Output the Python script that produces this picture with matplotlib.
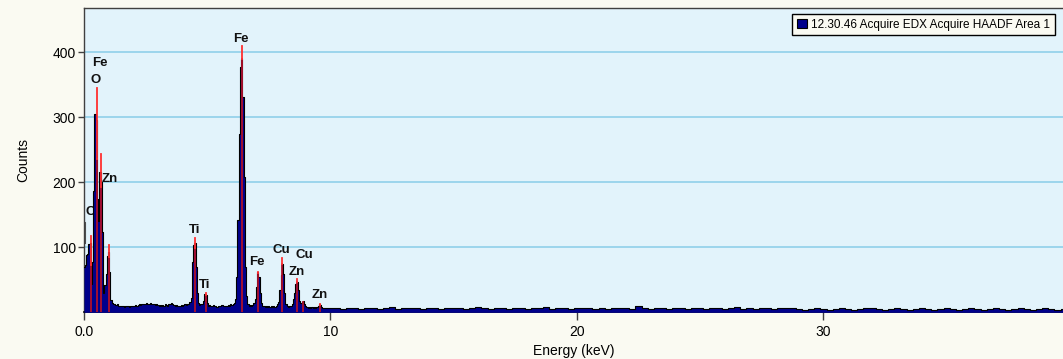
import numpy as np
import matplotlib
matplotlib.use("Agg")
import matplotlib.pyplot as plt
from matplotlib.patches import Patch

plt.rcParams['font.family'] = ['Liberation Sans', 'DejaVu Sans']

# ---- data: spectrum 0-10 keV in 0.05 keV channels ----
channel_width_lo = 0.05
counts_lo = [
    70, 72, 88, 90, 105, 107, 44, 78, 186, 305,
    296, 175, 141, 216, 200, 124, 29, 42, 59, 86,
    92, 62, 19, 15, 13, 12, 11, 12, 10, 10,
    9, 10, 9, 8, 9, 10, 9, 8, 9, 10,
    9, 10, 11, 10, 11, 12, 11, 12, 13, 12,
    13, 14, 13, 12, 14, 13, 12, 13, 11, 12,
    11, 10, 11, 10, 11, 10, 12, 11, 10, 12,
    13, 14, 12, 11, 10, 11, 10, 9, 10, 11,
    10, 11, 12, 11, 12, 13, 16, 22, 77, 103,
    107, 70, 29, 14, 11, 12, 13, 18, 28, 26,
    14, 10, 11, 9, 10, 11, 9, 10, 8, 10,
    9, 10, 11, 9, 10, 9, 10, 11, 10, 12,
    11, 13, 15, 20, 55, 142, 274, 378, 389, 331,
    208, 70, 25, 12, 10, 11, 10, 11, 14, 20,
    39, 62, 55, 29, 14, 10, 9, 8, 9, 8,
    9, 8, 9, 8, 9, 8, 10, 12, 16, 34,
    57, 74, 59, 29, 13, 9, 8, 9, 10, 13,
    20, 29, 43, 47, 34, 18, 14, 16, 17, 12,
    9, 8, 7, 8, 7, 8, 7, 8, 7, 8,
    10, 12, 11, 8, 7, 6, 7, 6, 7, 6,
    6,
]

# ---- data: spectrum tail 10.25-39.75 keV in 0.25 keV steps ----
tail_start = 10.25
tail_step = 0.25
counts_tail = [
    6, 5, 7, 6, 5, 6, 7, 5, 6, 8,
    5, 6, 7, 6, 5, 7, 6, 5, 6, 7,
    6, 5, 6, 8, 6, 5, 7, 6, 5, 6,
    7, 5, 6, 6, 8, 5, 6, 7, 5, 6,
    6, 7, 5, 6, 5, 6, 7, 6, 5, 9,
    6, 5, 6, 7, 5, 6, 6, 5, 7, 6,
    5, 6, 7, 5, 6, 8, 5, 6, 5, 7,
    6, 5, 6, 7, 6, 5, 4, 5, 6, 5,
    4, 5, 6, 5, 4, 5, 6, 7, 5, 4,
    5, 6, 5, 4, 5, 6, 5, 4, 5, 6,
    5, 4, 5, 6, 5, 4, 5, 6, 5, 4,
    5, 6, 5, 4, 5, 6, 5, 4, 5,
]

# noise (zero) peak shown in gray
noise_energy = [0.0, 0.05]
noise_counts = [139, 106]

# element line markers
line_energy = [0.277, 0.525, 0.705, 1.012, 4.51, 4.93, 6.40, 7.06, 8.05, 8.64, 8.90, 9.57]
line_height = [117, 345, 243, 104, 114, 29, 409, 62, 84, 51, 16, 12]

# element labels
label_text = ["C", "O", "Fe", "Zn", "Ti", "Ti", "Fe", "Fe", "Cu", "Cu", "Zn", "Zn"]
label_x = [0.25, 0.49, 0.66, 1.03, 4.48, 4.90, 6.36, 7.02, 8.02, 8.93, 8.63, 9.55]
label_y = [154, 357, 383, 205, 126, 42, 421, 78, 96, 88, 62, 27]

legend_label = "12.30.46 Acquire EDX Acquire HAADF Area 1"
x_ticks = [0, 10, 20, 30]
x_ticklabels = ["0.0", "10", "20", "30"]
y_ticks = [100, 200, 300, 400]

# ---- build arrays ----
energy = np.concatenate([np.arange(len(counts_lo)) * channel_width_lo,
                         tail_start + np.arange(len(counts_tail)) * tail_step])
counts = np.concatenate([counts_lo, counts_tail]).astype(float)

W, H = 1063, 359
fig = plt.figure(figsize=(W / 100, H / 100), dpi=100, facecolor='#FAFAF2')
ax = fig.add_axes([84 / W, 1 - 312.3 / H, (W - 84) / W, (312.3 - 8) / H])
ax.set_facecolor('#E2F3FB')

ax.set_xlim(0, 39.72)
ax.set_ylim(0, 468)

for yv in y_ticks:
    ax.axhline(yv, color='#90CFEA', lw=1.2, zorder=1)

# gray noise peak
ax.fill_between(noise_energy, noise_counts, step='mid', color='#8c8c8c', lw=0, zorder=2)
ax.step(noise_energy, noise_counts, where='mid', color='#505050', lw=0.8, zorder=2)

# labels (behind spectrum)
for t, lx, ly in zip(label_text, label_x, label_y):
    ax.text(lx, ly, t, ha='center', va='center', fontsize=9.5, fontweight='bold',
            color='#111111', zorder=2.5)

# spectrum
ax.fill_between(energy, counts, step='mid', color='#00008B', lw=0, zorder=3)
ax.step(energy, counts, where='mid', color='black', lw=0.8, zorder=3.2)

# element marker lines
for le, lh in zip(line_energy, line_height):
    inside = float(np.interp(le, energy, counts))
    ax.plot([le, le], [0, min(inside, lh)], color='#B0102A', lw=1.3, zorder=4)
    ax.plot([le, le], [min(inside, lh), lh], color='#FF3030', lw=1.3, zorder=4)

ax.set_xticks(x_ticks)
ax.set_xticklabels(x_ticklabels)
ax.set_yticks(y_ticks)
ax.tick_params(axis='x', direction='out', length=6, width=1, color='#404040',
               labelsize=10, pad=3)
ax.tick_params(axis='y', direction='out', length=4, width=1, color='#404040',
               labelsize=10, pad=2)

for s in ['left', 'top']:
    ax.spines[s].set_color('#404040')
    ax.spines[s].set_linewidth(1)
ax.spines['bottom'].set_color('black')
ax.spines['bottom'].set_linewidth(1.2)
ax.spines['right'].set_visible(False)

ax.set_ylabel("Counts", fontsize=10, labelpad=16)
ax.set_xlabel("Energy (keV)", fontsize=10, labelpad=4)

handle = Patch(facecolor='#00008B', edgecolor='black', lw=0.8)
leg = ax.legend([handle], [legend_label], loc='upper right',
                bbox_to_anchor=((1055 - 84) / (W - 84), (312.3 - 14) / 304.3),
                fontsize=8.5, frameon=True, fancybox=False, framealpha=1,
                facecolor='#FAFAF2', edgecolor='black', borderpad=0.4,
                handlelength=0.8, handleheight=0.8, handletextpad=0.4,
                borderaxespad=0)
leg.get_frame().set_linewidth(1.0)

fig.savefig("out.png", dpi=100, facecolor=fig.get_facecolor())
